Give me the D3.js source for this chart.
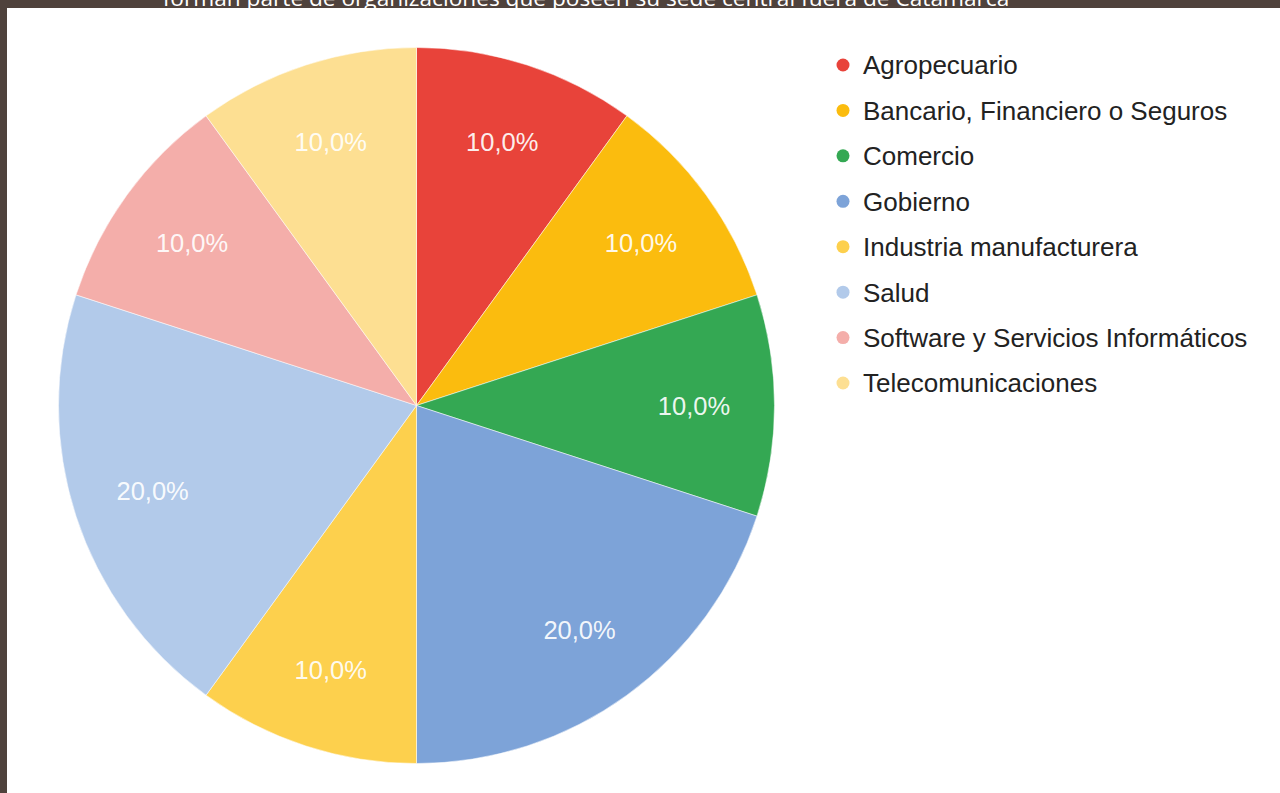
<!DOCTYPE html>
<html><head><meta charset="utf-8">
<script src="https://cdn.jsdelivr.net/npm/d3@7"></script>
<style>html,body{margin:0;padding:0;background:#fff;overflow:hidden}</style>
</head><body>
<svg id="chart" width="1280" height="793"></svg>
<script>
const titleText = "forman parte de organizaciones que poseen su sede central fuera de Catamarca";
const categories = ["Agropecuario","Bancario, Financiero o Seguros","Comercio","Gobierno","Industria manufacturera","Salud","Software y Servicios Informáticos","Telecomunicaciones"];
const values = [10,10,10,20,10,20,10,10];
const colors = ["#e8433a","#fbbc0e","#34a853","#7da3d8","#fdd04d","#b2caea","#f4aeaa","#fddf92"];

const svg = d3.select("#chart");
const W = 1280, H = 793;
svg.append("rect").attr("x",0).attr("y",0).attr("width",W).attr("height",H).attr("fill","#fff");
// brown frame
svg.append("rect").attr("x",0).attr("y",0).attr("width",W).attr("height",8).attr("fill","#4f423c");
svg.append("rect").attr("x",0).attr("y",0).attr("width",7).attr("height",H).attr("fill","#4f423c");

const title = svg.append("text").text(titleText)
  .attr("x",586).attr("y",6).attr("text-anchor","middle")
  .attr("font-family","'Open Sans', sans-serif").attr("font-size",20).attr("fill","#fff");
const tw = title.node().getComputedTextLength();
title.attr("font-size", 20*847/tw);

const cx = 416.5, cy = 405.5, R = 358;
const total = d3.sum(values);
const data = categories.map((c,i)=>({cat:c, value:values[i], color:colors[i]}));
const pie = d3.pie().value(d=>d.value).sort(null);
const arcs = pie(data);
const arc = d3.arc().innerRadius(0).outerRadius(R);
const labelArc = d3.arc().innerRadius(R*0.775).outerRadius(R*0.775);
const g = svg.append("g").attr("transform",`translate(${cx},${cy})`);
g.selectAll("path").data(arcs).join("path")
  .attr("d",arc).attr("fill",d=>d.data.color)
  .attr("stroke","#ffffff").attr("stroke-opacity",0.5).attr("stroke-width",1);
const fmt = v => (v/total*100).toFixed(1).replace(".",",") + "%";
g.selectAll("text.lbl").data(arcs).join("text").attr("class","lbl")
  .attr("transform",d=>`translate(${labelArc.centroid(d)})`)
  .attr("text-anchor","middle").attr("dy","0.36em")
  .attr("font-family","'Liberation Sans', Arial, sans-serif").attr("font-size",25.5)
  .attr("fill","#fff").attr("fill-opacity",0.92)
  .text(d=>fmt(d.data.value));

// legend
const ly = d3.scalePoint().domain(categories).range([65,383]);
const lg = svg.append("g");
const items = lg.selectAll("g").data(data).join("g")
  .attr("transform",d=>`translate(843,${ly(d.cat)})`);
items.append("circle").attr("r",6.5).attr("fill",d=>d.color);
items.append("text").attr("x",20).attr("dy","0.36em")
  .attr("font-family","'Liberation Sans', Arial, sans-serif").attr("font-size",26)
  .attr("fill","#222").text(d=>d.cat);
</script>
</body></html>
